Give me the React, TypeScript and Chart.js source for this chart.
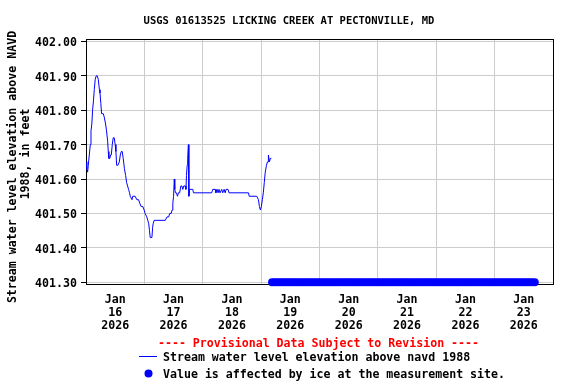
import React, { useEffect, useRef } from "react";
import { Chart, registerables } from "chart.js";

Chart.register(...registerables);

const titleText = "USGS 01613525 LICKING CREEK AT PECTONVILLE, MD";
const yTitleLines = ["Stream water level elevation above NAVD", "1988, in feet"];
const provisionalText = "---- Provisional Data Subject to Revision ----";
const legendLineText = "Stream water level elevation above navd 1988";
const legendIceText = "Value is affected by ice at the measurement site.";

const monthLabel = "Jan";
const yearLabel = "2026";
const dayLabels = ["16", "17", "18", "19", "20", "21", "22", "23"];
const yTickValues = [401.3, 401.4, 401.5, 401.6, 401.7, 401.8, 401.9, 402.0];

// hours since Jan 16 2026 00:00
const levelHours = [
  0, 0.33, 0.66, 0.94, 1.35, 1.77, 2.05, 2.4, 2.7, 3.1, 3.4, 3.8, 4.2, 4.6, 5.05, 5.5, 5.75, 6.1, 6.4, 7.1,
  7.5, 8.05, 8.45, 8.9, 9.15, 9.4, 9.8, 10.1, 10.4, 10.8, 11.2, 11.6, 12.0, 12.3, 12.6, 13.1, 13.7, 14.1, 14.5, 14.9,
  15.3, 15.8, 16.3, 16.7, 17.1, 17.5, 17.9, 18.2, 18.5, 18.9, 19.2, 20.2, 20.9, 21.6, 22.1, 22.7, 23.4, 23.9, 24.3, 25.0,
  25.4, 25.8, 26.1, 26.4, 27.1, 27.4, 27.6, 28.0, 32.6, 33.3, 34.0, 34.4, 35.0, 35.4, 35.7, 36.0, 36.3, 36.5, 36.8, 37.2,
  37.6, 38.0, 38.5, 39.0, 39.4, 39.8, 40.2, 40.8, 41.1, 41.3, 41.6, 41.8, 42.1, 42.3, 42.6, 43.9, 44.2, 51.7, 52.1, 53.1,
  53.4, 53.9, 54.3, 54.7, 55.1, 55.8, 56.2, 56.8, 57.2, 57.6, 58.4, 58.8, 66.8, 67.1, 70.2, 70.9, 71.3, 71.7, 72.1, 72.5,
  72.9, 73.3, 73.7, 74.2, 74.6, 74.9, 75.0, 75.4, 75.8, 76.2,
];
const levelValues = [
  401.65, 401.63, 401.62, 401.64, 401.67, 401.70, 401.74, 401.76, 401.80, 401.83, 401.86, 401.89, 401.90, 401.90, 401.89, 401.86, 401.85, 401.82, 401.79, 401.79,
  401.78, 401.76, 401.74, 401.71, 401.68, 401.66, 401.66, 401.67, 401.67, 401.70, 401.72, 401.72, 401.70, 401.68, 401.64, 401.64, 401.65, 401.67, 401.68, 401.68,
  401.66, 401.63, 401.61, 401.59, 401.58, 401.57, 401.56, 401.55, 401.55, 401.54, 401.55, 401.55, 401.54, 401.54, 401.53, 401.52, 401.52, 401.51, 401.50, 401.49,
  401.48, 401.47, 401.45, 401.43, 401.43, 401.46, 401.47, 401.48, 401.48, 401.49, 401.49, 401.50, 401.50, 401.51, 401.53, 401.55, 401.60, 401.57, 401.56, 401.56,
  401.55, 401.56, 401.56, 401.58, 401.58, 401.57, 401.58, 401.58, 401.57, 401.61, 401.64, 401.66, 401.70, 401.55, 401.57, 401.57, 401.56, 401.56, 401.57, 401.57,
  401.56, 401.57, 401.56, 401.57, 401.56, 401.57, 401.56, 401.57, 401.56, 401.57, 401.57, 401.56, 401.56, 401.55, 401.55, 401.54, 401.52, 401.51, 401.52, 401.54,
  401.56, 401.59, 401.62, 401.64, 401.65, 401.65, 401.67, 401.65, 401.66, 401.66,
];

// ice-affected readings (hours since Jan 16 00:00), plotted at the axis floor
const iceLevel = 401.3;
const iceHours = [
  76.5, 77.5, 78.5, 79.5, 80.5, 81.5, 82.5, 83.5, 84.5, 85.5,
  86.5, 87.5, 88.5, 89.5, 90.5, 91.5, 92.5, 93.5, 94.5, 95.5,
  96.5, 97.5, 98.5, 99.5, 100.5, 101.5, 102.5, 103.5, 104.5, 105.5,
  106.5, 107.5, 108.5, 109.5, 110.5, 111.5, 112.5, 113.5, 114.5, 115.5,
  116.5, 117.5, 118.5, 119.5, 120.5, 121.5, 122.5, 123.5, 124.5, 125.5,
  126.5, 127.5, 128.5, 129.5, 130.5, 131.5, 132.5, 133.5, 134.5, 135.5,
  136.5, 137.5, 138.5, 139.5, 140.5, 141.5, 142.5, 143.5, 144.5, 145.5,
  146.5, 147.5, 148.5, 149.5, 150.5, 151.5, 152.5, 153.5, 154.5, 155.5,
  156.5, 157.5, 158.5, 159.5, 160.5, 161.5, 162.5, 163.5, 164.5, 165.5,
  166.5, 167.5, 168.5, 169.5, 170.5, 171.5, 172.5, 173.5, 174.5, 175.5,
  176.5, 177.5, 178.5, 179.5, 180.5, 181.5, 182.5, 183.5, 184.5,
];

const FONT_FAMILY = "'DejaVu Sans Mono', monospace";
const FONT_SIZE = 11.6;

const textPlugin = {
  id: "usgsText",
  beforeDatasetsDraw(chart: any) {
    const { ctx, chartArea } = chart;
    ctx.save();
    ctx.strokeStyle = "#000000";
    ctx.lineWidth = 1;
    ctx.strokeRect(
      Math.round(chartArea.left) + 0.5,
      Math.round(chartArea.top) + 0.5,
      Math.round(chartArea.right - chartArea.left),
      Math.round(chartArea.bottom - chartArea.top)
    );
    ctx.restore();
  },
  afterDraw(chart: any) {
    const { ctx, chartArea } = chart;
    ctx.save();
    ctx.textBaseline = "middle";
    // title
    ctx.font = `bold 10.5px ${FONT_FAMILY}`;
    ctx.fillStyle = "#000000";
    ctx.textAlign = "center";
    ctx.fillText(titleText, 289, 21);

    // y axis title (rotated)
    ctx.font = `bold ${FONT_SIZE}px ${FONT_FAMILY}`;
    ctx.save();
    ctx.translate(13, 167);
    ctx.rotate(-Math.PI / 2);
    ctx.fillText(yTitleLines[0], 0, 0);
    ctx.restore();
    ctx.save();
    ctx.translate(26, 154);
    ctx.rotate(-Math.PI / 2);
    ctx.fillText(yTitleLines[1], 0, 0);
    ctx.restore();

    // provisional notice
    const cx = (chartArea.left + chartArea.right) / 2;
    ctx.fillStyle = "#ff0000";
    ctx.fillText(provisionalText, cx - 1, 343.5);

    // legend
    ctx.textAlign = "left";
    ctx.fillStyle = "#000000";
    ctx.strokeStyle = "#0000ff";
    ctx.lineWidth = 1;
    ctx.beginPath();
    ctx.moveTo(139, 356.5);
    ctx.lineTo(157, 356.5);
    ctx.stroke();
    ctx.fillText(legendLineText, 163, 357.5);

    ctx.fillStyle = "#0000ff";
    ctx.beginPath();
    ctx.arc(148.5, 373.5, 4, 0, Math.PI * 2);
    ctx.fill();
    ctx.fillStyle = "#000000";
    ctx.fillText(legendIceText, 163, 374.5);
    ctx.restore();
  },
};

export default function App() {
  const canvasRef = useRef<HTMLCanvasElement | null>(null);

  useEffect(() => {
    const canvas = canvasRef.current;
    if (!canvas) return;
    const levelData = levelHours.map((h, i) => ({ x: h, y: levelValues[i] }));
    const iceData = iceHours.map((h) => ({ x: h, y: iceLevel }));
    const tickFont = { family: FONT_FAMILY, size: FONT_SIZE, weight: "bold" as const, lineHeight: 1.13 };

    const chart = new Chart(canvas, {
      type: "scatter",
      data: {
        datasets: [
          {
            label: legendLineText,
            data: levelData,
            showLine: true,
            borderColor: "#0000ff",
            backgroundColor: "#0000ff",
            borderWidth: 1,
            pointRadius: 0,
            tension: 0,
          },
          {
            label: legendIceText,
            data: iceData,
            showLine: false,
            pointRadius: 4,
            pointBorderWidth: 0,
            pointBackgroundColor: "#0000ff",
            backgroundColor: "#0000ff",
            borderColor: "#0000ff",
            clip: false as any,
          },
        ],
      },
      options: {
        responsive: false,
        animation: false,
        events: [],
        layout: { padding: { top: 39, right: 23, left: 0, bottom: 0 } },
        plugins: {
          legend: { display: false },
          title: { display: false },
          tooltip: { enabled: false },
        },
        scales: {
          x: {
            type: "linear",
            min: 0,
            max: 192,
            afterFit(scale: any) {
              scale.height = 100;
            },
            afterBuildTicks(scale: any) {
              const t = [];
              for (let i = 0; i <= dayLabels.length * 2; i++) t.push({ value: i * 12 });
              scale.ticks = t;
            },
            grid: {
              color: (c: any) => (c.tick && c.tick.value % 24 === 0 ? "#cccccc" : "rgba(0,0,0,0)"),
              lineWidth: 1,
              drawTicks: false,
            },
            border: { display: true, color: "#000000" },
            ticks: {
              autoSkip: false,
              maxRotation: 0,
              minRotation: 0,
              padding: 9,
              color: "#000000",
              font: tickFont,
              callback: (v: any) => {
                const n = Number(v);
                if (n % 24 !== 12) return "";
                const idx = Math.floor(n / 24);
                return [monthLabel, dayLabels[idx], yearLabel];
              },
            },
          },
          y: {
            type: "linear",
            min: 401.295,
            max: 402.007,
            afterFit(scale: any) {
              scale.width = 86;
            },
            afterBuildTicks(scale: any) {
              scale.ticks = yTickValues.map((v) => ({ value: v }));
            },
            grid: {
              color: "#cccccc",
              lineWidth: 1,
              drawTicks: true,
              tickLength: 5,
              tickColor: "#000000",
            },
            border: { display: true, color: "#000000" },
            ticks: {
              padding: 4,
              labelOffset: 2,
              color: "#000000",
              font: tickFont,
              callback: (v: any) => Number(v).toFixed(2),
            },
          },
        },
      },
      plugins: [textPlugin],
    });
    return () => chart.destroy();
  }, []);

  return (
    <div style={{ position: "absolute", left: 0, top: 0, width: 576, height: 384, background: "#ffffff" }}>
      <canvas ref={canvasRef} width={576} height={384} style={{ width: 576, height: 384, display: "block" }} />
    </div>
  );
}
